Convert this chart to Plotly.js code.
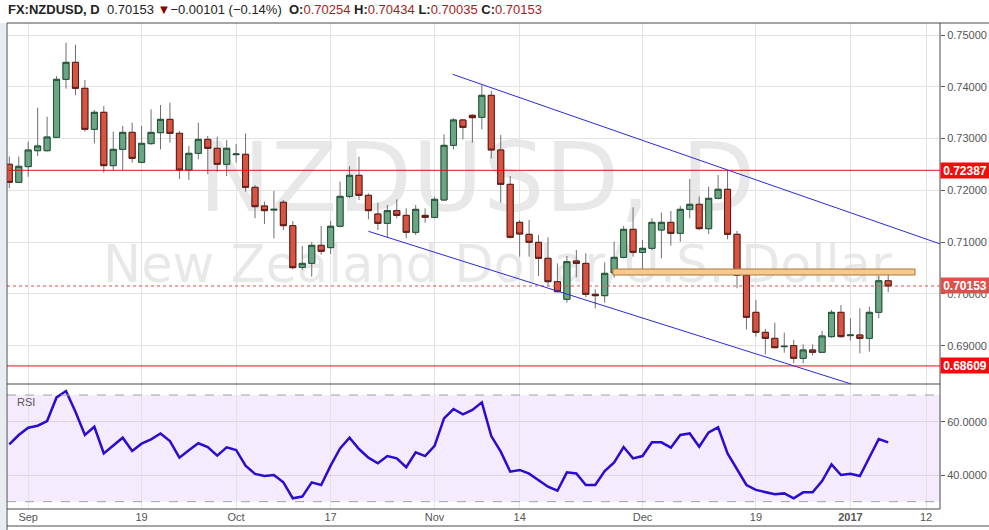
<!DOCTYPE html>
<html>
<head>
<meta charset="utf-8">
<script src="https://cdn.plot.ly/plotly-3.0.1.min.js"></script>
<style>html,body{margin:0;padding:0;background:#fff;}#chart{width:989px;height:530px;}</style>
</head>
<body>
<div id="chart"></div>
<script>
// ---- data ----
const dates = [
'2016-08-30','2016-08-31','2016-09-01','2016-09-02','2016-09-05','2016-09-06','2016-09-07','2016-09-08','2016-09-09',
'2016-09-12','2016-09-13','2016-09-14','2016-09-15','2016-09-16','2016-09-19','2016-09-20','2016-09-21','2016-09-22','2016-09-23',
'2016-09-26','2016-09-27','2016-09-28','2016-09-29','2016-09-30','2016-10-03','2016-10-04','2016-10-05','2016-10-06','2016-10-07',
'2016-10-10','2016-10-11','2016-10-12','2016-10-13','2016-10-14','2016-10-17','2016-10-18','2016-10-19','2016-10-20','2016-10-21',
'2016-10-24','2016-10-25','2016-10-26','2016-10-27','2016-10-28','2016-10-31','2016-11-01','2016-11-02','2016-11-03','2016-11-04',
'2016-11-07','2016-11-08','2016-11-09','2016-11-10','2016-11-11','2016-11-14','2016-11-15','2016-11-16','2016-11-17','2016-11-18',
'2016-11-21','2016-11-22','2016-11-23','2016-11-24','2016-11-25','2016-11-28','2016-11-29','2016-11-30','2016-12-01','2016-12-02',
'2016-12-05','2016-12-06','2016-12-07','2016-12-08','2016-12-09','2016-12-12','2016-12-13','2016-12-14','2016-12-15','2016-12-16',
'2016-12-19','2016-12-20','2016-12-21','2016-12-22','2016-12-23','2016-12-26','2016-12-27','2016-12-28','2016-12-29','2016-12-30',
'2017-01-02','2017-01-03','2017-01-04','2017-01-05','2017-01-06'];

const openP = [
0.72503,0.72155,0.72458,0.72766,0.72766,0.73024,0.74144,0.74472,0.73970,
0.73178,0.73507,0.72477,0.72792,0.73120,0.72541,0.72902,0.73114,0.73371,0.73101,
0.72393,0.72715,0.72985,0.72812,0.72503,0.72689,0.72696,0.72058,0.71698,0.71620,
0.71769,0.71318,0.70513,0.70590,0.70938,0.70894,0.71306,0.71884,0.72290,0.71904,
0.71543,0.71363,0.71608,0.71517,0.71189,0.71517,0.71479,0.71814,0.72869,0.73359,
0.73449,0.73410,0.73835,0.72779,0.72116,0.71382,0.71151,0.70996,0.70687,0.70236,
0.69895,0.70636,0.70590,0.69992,0.69966,0.70410,0.70706,0.71247,0.70803,0.70880,
0.71234,0.71382,0.71170,0.71633,0.71730,0.71260,0.71846,0.72020,0.71151,0.70359,
0.69644,0.69258,0.69142,0.68981,0.69001,0.68756,0.68917,0.68872,0.69175,0.69644,
0.69194,0.69207,0.69142,0.69644,0.70254];

const highP = [
0.72651,0.72651,0.72940,0.73597,0.73423,0.74208,0.74852,0.74813,0.74131,
0.73552,0.73629,0.73133,0.73243,0.73307,0.73243,0.73565,0.73648,0.73693,0.73146,
0.72857,0.73307,0.73050,0.73037,0.72972,0.72895,0.73101,0.72103,0.71782,0.71987,
0.71814,0.71408,0.70925,0.71002,0.71311,0.71408,0.72168,0.72470,0.72650,0.71942,
0.71762,0.71717,0.71826,0.71653,0.71717,0.71653,0.71878,0.73082,0.73391,0.73371,
0.73468,0.74035,0.73919,0.73069,0.72277,0.71427,0.71427,0.71138,0.71093,0.70590,
0.70732,0.70848,0.70784,0.70088,0.70610,0.71009,0.71311,0.71672,0.71041,0.71460,
0.71569,0.71601,0.71698,0.72219,0.71878,0.72071,0.72296,0.72393,0.71215,0.70430,
0.69883,0.69322,0.69445,0.69252,0.69110,0.69026,0.69026,0.69284,0.69689,0.69786,
0.69528,0.69721,0.69753,0.70346,0.70434];

const lowP = [
0.72040,0.72140,0.72264,0.72663,0.72750,0.73020,0.73964,0.73835,0.73133,
0.72908,0.72342,0.72393,0.72393,0.72535,0.72522,0.72880,0.72792,0.72921,0.72219,
0.72200,0.72599,0.72316,0.72361,0.72277,0.72535,0.71975,0.71460,0.71350,0.71073,
0.71234,0.70475,0.70462,0.70333,0.70758,0.70771,0.71286,0.71850,0.71814,0.71440,
0.71234,0.71093,0.71460,0.71073,0.71138,0.71376,0.71460,0.71800,0.72792,0.72985,
0.72921,0.73178,0.72618,0.71762,0.71070,0.70719,0.70719,0.70346,0.70153,0.70024,
0.69831,0.70320,0.69934,0.69722,0.69831,0.70314,0.70687,0.70719,0.70430,0.70848,
0.70687,0.70932,0.71009,0.71460,0.71234,0.71157,0.71826,0.71054,0.70108,0.69316,
0.69175,0.68833,0.68949,0.68865,0.68659,0.68659,0.68808,0.68860,0.69155,0.69155,
0.69097,0.68853,0.68885,0.69528,0.70035];

const closeP = [
0.72155,0.72464,0.72779,0.72857,0.73030,0.74144,0.74472,0.73970,0.73178,
0.73507,0.72477,0.72792,0.73120,0.72618,0.72908,0.73120,0.73371,0.73101,0.72393,
0.72715,0.72985,0.72812,0.72503,0.72812,0.72702,0.72058,0.71685,0.71608,0.71633,
0.71318,0.70507,0.70590,0.70938,0.70822,0.71306,0.71884,0.72290,0.71904,0.71608,
0.71363,0.71608,0.71517,0.71189,0.71633,0.71479,0.71826,0.72869,0.73359,0.73217,
0.73404,0.73835,0.72779,0.72116,0.71093,0.71157,0.70996,0.70687,0.70236,0.70043,
0.70623,0.70590,0.69992,0.69966,0.70397,0.70706,0.71247,0.70803,0.70880,0.71382,
0.71382,0.71170,0.71633,0.71730,0.71260,0.71846,0.72020,0.71151,0.70359,0.69548,
0.69258,0.69142,0.68962,0.68988,0.68756,0.68917,0.68872,0.69187,0.69644,0.69175,
0.69206,0.69142,0.69644,0.70254,0.70153];

const rsi = [
51.5,55.0,57.75,58.5,60.25,69.1,71.5,63.75,55.0,
58.1,48.1,51.0,54.0,49.0,51.75,53.4,55.6,52.75,46.5,
49.25,51.9,50.5,47.25,50.4,49.4,43.5,40.4,39.6,40.0,
37.25,31.25,31.9,37.25,36.25,43.5,50.0,54.0,49.75,46.5,
44.4,47.1,46.25,42.9,48.5,47.1,50.9,61.25,64.75,62.75,
64.4,67.25,54.6,48.75,41.25,41.9,40.5,38.1,35.6,34.1,
41.0,40.6,36.25,36.25,41.5,44.75,50.5,46.25,47.1,52.25,
52.25,50.25,55.0,55.6,50.6,56.0,57.9,48.1,41.9,36.25,
34.4,33.5,32.75,33.1,31.25,33.5,33.5,37.75,44.0,40.0,
40.5,39.6,46.75,53.5,52.25];

const tickDates = ['2016-09-01','2016-09-19','2016-10-03','2016-10-17','2016-11-01','2016-11-14','2016-12-01','2016-12-19','2017-01-02','2017-01-12'];
const tickLabels = ['Sep','19','Oct','17','Nov','14','Dec','19','<b>2017</b>','12'];
const priceTicks = [0.69,0.70,0.71,0.72,0.73,0.74,0.75];
const rsiTicks = [40,60];
const rsiTickLabels = ['40.0000','60.0000'];
const levelHigh = 0.72387;
const levelLow = 0.68609;
const zoneLow = 0.70365, zoneHigh = 0.70481;
const symbol = 'FX:NZDUSD, D';
const watermark1 = 'NZDUSD, D';
const watermark2 = 'New Zealand Dollar/U.S. Dollar';

// ---- derived ----
const xs = dates.map(d => d + ' 12:00');
const bodyHigh = openP.map((o, i) => Math.max(o, closeP[i]));
const bodyLow = openP.map((o, i) => Math.min(o, closeP[i]));
const n = closeP.length;
const lastClose = closeP[n - 1];
const chg = closeP[n - 1] - closeP[n - 2];
const chgPct = chg / closeP[n - 2] * 100;
const f5 = v => v.toFixed(5);

const RED = '#a31d1d';
const header = '<b>' + symbol + '</b>  ' + f5(lastClose) + ' <span style="color:#8b0000">\u25BC</span>' +
  '\u2212' + f5(Math.abs(chg)) + ' (\u2212' + Math.abs(chgPct).toFixed(2) + '%)  ' +
  '<b>O:</b><span style="color:' + RED + '">' + f5(openP[n-1]) + '</span> ' +
  '<b>H:</b><span style="color:' + RED + '">' + f5(highP[n-1]) + '</span> ' +
  '<b>L:</b><span style="color:' + RED + '">' + f5(lowP[n-1]) + '</span> ' +
  '<b>C:</b><span style="color:' + RED + '">' + f5(closeP[n-1]) + '</span>';

const wickTrace = {
  type: 'candlestick', x: xs, open: openP, high: highP, low: lowP, close: closeP,
  xaxis: 'x', yaxis: 'y', whiskerwidth: 0,
  increasing: {line: {color: '#6f6f72', width: 1}, fillcolor: '#6ba583'},
  decreasing: {line: {color: '#6f6f72', width: 1}, fillcolor: '#d75442'},
  hoverinfo: 'skip', showlegend: false
};
const bodyTrace = {
  type: 'candlestick', x: xs, open: openP, high: bodyHigh, low: bodyLow, close: closeP,
  xaxis: 'x', yaxis: 'y', whiskerwidth: 0,
  increasing: {line: {color: '#225437', width: 1}, fillcolor: '#6ba583'},
  decreasing: {line: {color: '#5b1a13', width: 1}, fillcolor: '#d75442'},
  hoverinfo: 'skip', showlegend: false
};
const rsiTrace = {
  type: 'scatter', mode: 'lines', x: xs, y: rsi, xaxis: 'x', yaxis: 'y2',
  line: {color: '#2a0bd0', width: 2.5}, hoverinfo: 'skip', showlegend: false
};

const SPLIT = 0.2572;
const RIGHT_EXT = 1 + 49 / 933;
const BOTTOM = -17 / 486;
const frame = '#4a4a4a';

const shapes = [
  {type: 'rect', xref: 'paper', yref: 'paper', x0: -7/933, x1: -1/933, y0: -21/486, y1: 1, fillcolor: '#e9ecf0', line: {width: 0}, layer: 'above'},
  {type: 'rect', xref: 'paper', yref: 'y2', x0: 0, x1: 1, y0: 30, y1: 70, fillcolor: 'rgba(160,60,255,0.10)', line: {width: 0}, layer: 'below'},
  {type: 'line', xref: 'paper', yref: 'y2', x0: 0, x1: 1, y0: 70, y1: 70, line: {color: '#a0a0a0', width: 1, dash: 'dash'}},
  {type: 'line', xref: 'paper', yref: 'y2', x0: 0, x1: 1, y0: 30, y1: 30, line: {color: '#a0a0a0', width: 1, dash: 'dash'}},
  {type: 'rect', xref: 'paper', yref: 'paper', x0: 0.45, x1: 0.5576, y0: 0.69, y1: 0.705, line: {width: 0}, fillcolor: 'rgba(0,0,0,0)', layer: 'below',
   label: {text: watermark1, textposition: 'middle center', font: {family: 'DejaVu Sans', size: 97, color: 'rgba(0,0,0,0.09)'}}},
  {type: 'rect', xref: 'paper', yref: 'paper', x0: 0.47, x1: 0.5814, y0: 0.505, y1: 0.5196, line: {width: 0}, fillcolor: 'rgba(0,0,0,0)', layer: 'below',
   label: {text: watermark2, textposition: 'middle center', font: {family: 'DejaVu Sans', size: 51, color: 'rgba(0,0,0,0.09)'}}},
  {type: 'line', xref: 'paper', yref: 'y', x0: 0, x1: 1, y0: levelHigh, y1: levelHigh, line: {color: '#e01010', width: 1}},
  {type: 'line', xref: 'paper', yref: 'y', x0: 0, x1: 1, y0: levelLow, y1: levelLow, line: {color: '#e01010', width: 1}},
  {type: 'line', xref: 'paper', yref: 'y', x0: 0, x1: 1, y0: lastClose, y1: lastClose, line: {color: '#d75442', width: 1, dash: 'dot'}},
  {type: 'rect', xref: 'x', yref: 'y', x0: '2016-11-28 09:00', x1: '2017-01-11 08:00', y0: zoneLow, y1: zoneHigh,
   fillcolor: '#f8c98e', line: {color: '#a8783e', width: 1}},
  {type: 'line', xref: 'x', yref: 'y', x0: '2016-11-03 10:00', y0: 0.74241, x1: '2017-01-13 23:30', y1: 0.70966, line: {color: '#2b2bdc', width: 1}},
  {type: 'line', xref: 'x', yref: 'y', x0: '2016-10-21 12:00', y0: 0.71209, x1: '2017-01-02 14:00', y1: 0.68260, line: {color: '#2b2bdc', width: 1}},
  {type: 'line', xref: 'paper', yref: 'paper', x0: 0, x1: RIGHT_EXT, y0: 1, y1: 1, line: {color: frame, width: 1}},
  {type: 'line', xref: 'paper', yref: 'paper', x0: 0, x1: 0, y0: -21/486, y1: 1, line: {color: frame, width: 1}},
  {type: 'line', xref: 'paper', yref: 'paper', x0: 1, x1: 1, y0: 0, y1: 1, line: {color: frame, width: 1}},
  {type: 'line', xref: 'paper', yref: 'paper', x0: 0, x1: 1, y0: SPLIT, y1: SPLIT, line: {color: frame, width: 1}},
  {type: 'line', xref: 'paper', yref: 'paper', x0: 0, x1: 1, y0: 0, y1: 0, line: {color: frame, width: 1}},
  {type: 'line', xref: 'paper', yref: 'paper', x0: 0, x1: RIGHT_EXT, y0: BOTTOM, y1: BOTTOM, line: {color: frame, width: 1}}
];

function priceBox(v, bg) {
  return {xref: 'paper', yref: 'y', x: 1, y: v, xanchor: 'left', yanchor: 'middle', showarrow: false,
    text: '<b>' + f5(v) + '</b>', font: {family: 'Liberation Sans, Arial', size: 12, color: '#fff'},
    bgcolor: bg, width: 46, height: 13, borderpad: 1, align: 'center'};
}

const annotations = [
  {xref: 'paper', yref: 'paper', x: 0, y: 1 + 13/486, xanchor: 'left', yanchor: 'middle', showarrow: false, xshift: -1,
   text: header, font: {family: 'Liberation Sans, Arial', size: 13, color: '#222'}},
  {xref: 'paper', yref: 'paper', x: 8/933, y: (509 - 401.5)/486, xanchor: 'left', yanchor: 'middle', showarrow: false,
   text: 'RSI', font: {family: 'Liberation Sans, Arial', size: 11, color: '#555'}},
  priceBox(levelHigh, '#f20d0d'),
  priceBox(levelLow, '#f20d0d'),
  priceBox(lastClose, '#d9534a')
];

const layout = {
  width: 989, height: 530,
  margin: {l: 7, r: 49, t: 23, b: 21, pad: 0},
  paper_bgcolor: '#ffffff', plot_bgcolor: '#ffffff',
  showlegend: false, hovermode: false, dragmode: false,
  font: {family: 'Liberation Sans, Arial', size: 11, color: '#555'},
  boxgap: 0.2, boxgroupgap: 0.2,
  xaxis: {
    type: 'date', anchor: 'y2',
    range: ['2016-08-30 06:10', '2017-01-13 23:30'],
    rangebreaks: [{bounds: ['sat', 'mon']}],
    rangeslider: {visible: false},
    tickmode: 'array', tickvals: tickDates.map(d => d + ' 12:00'), ticktext: tickLabels,
    showgrid: true, gridcolor: '#e3e3e3', gridwidth: 1, zeroline: false, showline: false, ticks: '',
    tickfont: {size: 11, color: '#555'}, fixedrange: true
  },
  yaxis: {
    domain: [SPLIT, 1], anchor: 'x', side: 'right',
    range: [0.6826, 0.75232],
    tickmode: 'array', tickvals: priceTicks, tickformat: '.5f',
    ticks: 'outside', ticklen: 4, tickcolor: '#555',
    showgrid: true, gridcolor: '#e3e3e3', zeroline: false, showline: false,
    tickfont: {size: 11, color: '#555'}, fixedrange: true
  },
  yaxis2: {
    domain: [0, SPLIT], anchor: 'x', side: 'right',
    range: [27.25, 74.14],
    tickmode: 'array', tickvals: rsiTicks, ticktext: rsiTickLabels,
    ticks: 'outside', ticklen: 4, tickcolor: '#555',
    showgrid: true, gridcolor: '#ddd3e8', zeroline: false, showline: false,
    tickfont: {size: 11, color: '#555'}, fixedrange: true
  },
  shapes: shapes,
  annotations: annotations
};

Plotly.newPlot('chart', [wickTrace, bodyTrace, rsiTrace], layout, {staticPlot: true, displayModeBar: false});
</script>
</body>
</html>
